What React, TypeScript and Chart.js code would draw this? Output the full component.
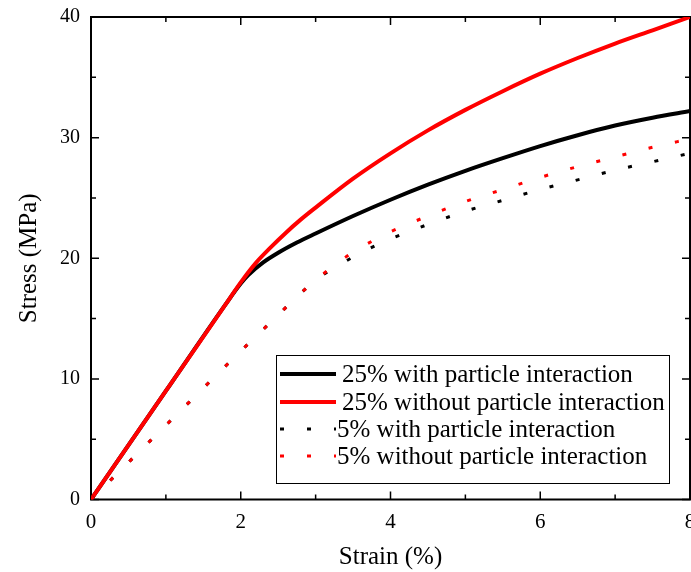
import React, { useEffect, useRef } from "react";
import { Chart, registerables } from "chart.js";
Chart.register(...registerables);

const strain25With = [0, 1, 1.8, 2, 2.1, 2.3, 2.5, 2.75, 3, 3.5, 4, 4.5, 5, 5.5, 6, 6.5, 7, 7.5, 8];
const stress25With = [0, 9, 16.2, 17.9, 18.6, 19.65, 20.45, 21.3, 22.05, 23.5, 24.85, 26.1, 27.25, 28.3, 29.3, 30.2, 31.0, 31.65, 32.2];
const strain25Without = [0, 1, 1.8, 2, 2.2, 2.4, 2.6, 2.8, 3, 3.5, 4, 4.5, 5, 5.5, 6, 6.5, 7, 7.5, 8];
const stress25Without = [0, 9, 16.2, 18.0, 19.6, 20.9, 22.1, 23.2, 24.2, 26.6, 28.7, 30.6, 32.3, 33.85, 35.3, 36.6, 37.8, 38.9, 40.0];

const strain5 = [0, 1, 2, 2.5, 2.75, 3, 3.25, 3.5, 3.75, 4, 4.5, 5, 5.5, 6, 6.5, 7, 7.5, 8];
const stress5With = [0, 6.15, 12.3, 15.3, 16.8, 18.2, 19.2, 20.1, 20.9, 21.6, 22.8, 23.9, 24.8, 25.7, 26.5, 27.3, 28.0, 28.7];
const stress5Without = [0, 6.15, 12.3, 15.3, 16.8, 18.2, 19.4, 20.5, 21.4, 22.2, 23.5, 24.7, 25.7, 26.7, 27.6, 28.4, 29.2, 29.9];

const seriesLabels = [
  "25% with particle interaction",
  "25% without particle interaction",
  "5% with particle interaction",
  "5% without particle interaction",
];

const xTitle = "Strain (%)";
const yTitle = "Stress (MPa)";

const FONT = "'Liberation Serif', 'Times New Roman', serif";
const DOT_DASH = [4, 23];

function pts(xs: number[], ys: number[]) {
  return xs.map((x, i) => ({ x, y: ys[i] }));
}

function noPad(scale: any) {
  scale.paddingLeft = 0;
  scale.paddingRight = 0;
  scale.paddingTop = 0;
  scale.paddingBottom = 0;
}

const framePlugin = {
  id: "frame",
  beforeDatasetsDraw(chart: any) {
    const { ctx, chartArea } = chart;
    const xs = chart.scales.x;
    const ys = chart.scales.y;
    const { left, right, top, bottom } = chartArea;
    ctx.save();
    ctx.strokeStyle = "#000";
    ctx.lineWidth = 2;
    ctx.beginPath();
    ctx.rect(left, top, right - left, bottom - top);
    ctx.stroke();
    ctx.lineWidth = 1.5;
    ctx.beginPath();
    for (let v = 0; v <= 8; v += 1) {
      const px = xs.getPixelForValue(v);
      const len = v % 2 === 0 ? 8 : 5;
      ctx.moveTo(px, bottom);
      ctx.lineTo(px, bottom - len);
      ctx.moveTo(px, top);
      ctx.lineTo(px, top + len);
    }
    for (let v = 0; v <= 40; v += 5) {
      const py = ys.getPixelForValue(v);
      const len = v % 10 === 0 ? 8 : 5;
      ctx.moveTo(left, py);
      ctx.lineTo(left + len, py);
      ctx.moveTo(right, py);
      ctx.lineTo(right - len, py);
    }
    ctx.stroke();
    ctx.restore();
  },
};

const legendPlugin = {
  id: "boxLegend",
  afterDatasetsDraw(chart: any) {
    const { ctx } = chart;
    const bx = 276.5, by = 355.5, bw = 393, bh = 128;
    ctx.save();
    ctx.fillStyle = "#fff";
    ctx.fillRect(bx, by, bw, bh);
    ctx.strokeStyle = "#000";
    ctx.lineWidth = 1;
    ctx.strokeRect(bx, by, bw, bh);
    const rows = [374, 402, 429, 456];
    chart.data.datasets.forEach((ds: any, i: number) => {
      const y = rows[i];
      ctx.beginPath();
      ctx.strokeStyle = ds.borderColor;
      ctx.lineWidth = ds.borderWidth;
      ctx.setLineDash(ds.borderDash || []);
      ctx.lineCap = "butt";
      ctx.moveTo(280, y);
      ctx.lineTo(336, y);
      ctx.stroke();
      ctx.setLineDash([]);
      ctx.fillStyle = "#000";
      ctx.font = `25px ${FONT}`;
      ctx.textBaseline = "middle";
      ctx.textAlign = "left";
      ctx.fillText(ds.label, i < 2 ? 342 : 337, y + 1);
    });
    ctx.restore();
  },
};

export default function App() {
  const ref = useRef<HTMLCanvasElement | null>(null);
  useEffect(() => {
    document.body.style.margin = "0";
    const canvas = ref.current!;
    const chart = new Chart(canvas, {
      type: "line",
      data: {
        datasets: [
          {
            label: seriesLabels[0],
            data: pts(strain25With, stress25With),
            borderColor: "#000000",
            borderWidth: 4,
            order: 4,
          },
          {
            label: seriesLabels[1],
            data: pts(strain25Without, stress25Without),
            borderColor: "#ff0000",
            borderWidth: 4,
            order: 3,
          },
          {
            label: seriesLabels[2],
            data: pts(strain5, stress5With),
            borderColor: "#000000",
            borderWidth: 3,
            borderDash: DOT_DASH,
            order: 2,
          },
          {
            label: seriesLabels[3],
            data: pts(strain5, stress5Without),
            borderColor: "#ff0000",
            borderWidth: 3,
            borderDash: DOT_DASH,
            order: 1,
          },
        ] as any,
      },
      options: {
        animation: false,
        responsive: false,
        maintainAspectRatio: false,
        parsing: false as any,
        elements: {
          point: { radius: 0 },
          line: { cubicInterpolationMode: "monotone", fill: false },
        },
        layout: { autoPadding: false, padding: { top: 17, right: 1, left: 0, bottom: 0 } },
        plugins: {
          legend: { display: false },
          tooltip: { enabled: false },
        },
        scales: {
          x: {
            type: "linear",
            min: 0,
            max: 8,
            grid: { display: false, drawTicks: false },
            border: { display: false },
            ticks: {
              stepSize: 2,
              padding: 10,
              color: "#000",
              font: { family: FONT, size: 21 },
              maxRotation: 0,
            },
            title: {
              display: true,
              text: xTitle,
              color: "#000",
              font: { family: FONT, size: 25 },
              padding: { top: 0, bottom: 0 },
            },
            afterFit(scale: any) {
              scale.height = 72.5;
              noPad(scale);
            },
          },
          y: {
            type: "linear",
            min: 0,
            max: 40,
            grid: { display: false, drawTicks: false },
            border: { display: false },
            ticks: {
              stepSize: 10,
              padding: 11,
              color: "#000",
              font: { family: FONT, size: 20 },
            },
            title: {
              display: true,
              text: yTitle,
              color: "#000",
              font: { family: FONT, size: 25 },
              padding: { top: 14, bottom: 0 },
            },
            afterFit(scale: any) {
              scale.width = 91;
              noPad(scale);
            },
          },
        },
      },
      plugins: [framePlugin, legendPlugin],
    });
    return () => chart.destroy();
  }, []);
  return (
    <div style={{ width: 691, height: 572 }}>
      <canvas ref={ref} width={691} height={572} style={{ display: "block" }} />
    </div>
  );
}
